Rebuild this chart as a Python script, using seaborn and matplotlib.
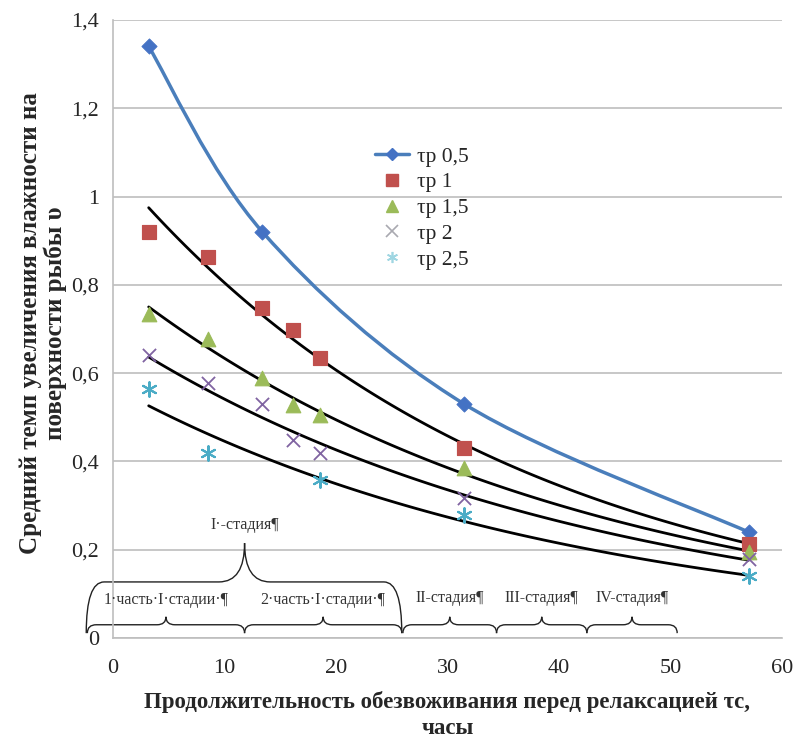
import numpy as np
import matplotlib
matplotlib.use("Agg")
import matplotlib.pyplot as plt
from matplotlib.path import Path
from matplotlib.patches import PathPatch
from matplotlib.lines import Line2D
import seaborn as sns

# data
hours = [3.2, 8.5, 13.4, 16.1, 18.6, 31.5, 57.0]
tau_05_x = [3.2, 13.4, 31.5, 57.0]
tau_05 = [1.34, 0.92, 0.53, 0.24]
tau_1 = [0.92, 0.862, 0.748, 0.697, 0.635, 0.43, 0.213]
tau_15 = [0.735, 0.678, 0.59, 0.527, 0.505, 0.385, 0.195]
tau_2 = [0.64, 0.577, 0.53, 0.448, 0.418, 0.318, 0.18]
tau_25_x = [3.2, 8.5, 18.6, 31.5, 57.0]
tau_25 = [0.565, 0.42, 0.357, 0.278, 0.14]

labels = ["τр 0,5", "τр 1", "τр 1,5", "τр 2", "τр 2,5"]
colors = ["#4A7EBB", "#C0504D", "#9BBB59", "#8064A2", "#4BACC6"]
yticks = [0, 0.2, 0.4, 0.6, 0.8, 1.0, 1.2, 1.4]
xticks = [0, 10, 20, 30, 40, 50, 60]

# stage braces: (start, end, label)
stage_parts = [(-2.3, 11.8, "1·часть·I·стадии·¶"), (11.8, 25.9, "2·часть·I·стадии·¶")]
stages = [(26.0, 34.4, "II-стадия¶"), (34.4, 42.5, "III-стадия¶"), (42.5, 50.6, "IV-стадия¶")]

sns.set_style("white")
plt.rcParams["font.family"] = ["Liberation Serif", "DejaVu Serif"]

fig = plt.figure(figsize=(7.95, 7.4), dpi=100)
ax = fig.add_axes([113 / 795, 1 - 638 / 740, (782 - 113) / 795, (638 - 20) / 740])

ax.set_xlim(0, 60)
ax.set_ylim(0, 1.4)
ax.set_yticks(yticks)
ax.set_xticks(xticks)
ax.yaxis.grid(True, color="#BEBEBE", lw=1.2)
ax.set_axisbelow(True)
for s in ["top", "right"]:
    ax.spines[s].set_visible(False)
for s in ["left", "bottom"]:
    ax.spines[s].set_color("#BEBEBE")
    ax.spines[s].set_linewidth(1.2)
ax.tick_params(axis="both", length=6, width=1.2, color="#BEBEBE", labelsize=16)
ax.tick_params(axis="x", pad=9)
ax.tick_params(axis="y", pad=4)
ax.set_yticklabels([f"{v:g}".replace(".", ",") for v in yticks])
ax.set_xticklabels([str(v) for v in xticks])


# smooth blue line (Excel style bezier through the points)
def smooth_path(xs, ys):
    pts = np.column_stack([xs, ys])
    verts = [pts[0]]
    codes = [Path.MOVETO]
    n = len(pts)
    for i in range(n - 1):
        p0 = pts[max(i - 1, 0)]
        p1 = pts[i]
        p2 = pts[i + 1]
        p3 = pts[min(i + 2, n - 1)]
        verts += [p1 + (p2 - p0) / 6, p2 - (p3 - p1) / 6, p2]
        codes += [Path.CURVE4] * 3
    return Path(verts, codes)


ax.add_patch(PathPatch(smooth_path(tau_05_x, tau_05), fill=False, ec=colors[0], lw=2.5, zorder=3))
sns.scatterplot(x=tau_05_x, y=tau_05, marker="D", s=60, color="#4472C4", edgecolor="#4472C4", ax=ax, zorder=4)

# exponential trend lines for the other series
series = [(hours, tau_1), (hours, tau_15), (hours, tau_2), (tau_25_x, tau_25)]
for xs, ys in series:
    k, b = np.polyfit(xs, np.log(ys), 1)
    xx = np.linspace(min(xs), max(xs), 100)
    sns.lineplot(x=xx, y=np.exp(b + k * xx), color="black", lw=2, ax=ax, zorder=3)

sns.scatterplot(x=hours, y=tau_1, marker="s", s=110, color=colors[1], edgecolor=colors[1], ax=ax, zorder=5)
sns.scatterplot(x=hours, y=tau_15, marker="^", s=110, color=colors[2], edgecolor=colors[2], ax=ax, zorder=5)
ax.scatter(hours, tau_2, marker="x", s=90, color=colors[3], linewidths=1.3, zorder=5)
ax.scatter(tau_25_x, tau_25, marker=(6, 2, 0), s=110, color=colors[4], linewidths=1.5, zorder=5)

ax.set_xlabel("Продолжительность обезвоживания перед релаксацией τс,\nчасы",
              fontsize=16.5, fontweight="bold", linespacing=1.3)
ax.xaxis.set_label_coords(0.5, -(715 - 638) / 618, transform=ax.transAxes)
ax.xaxis.label.set_va("center")
ax.set_ylabel("Средний темп увеличения влажности на\nповерхности рыбы υ",
              fontsize=18, fontweight="bold", linespacing=1.12)
ax.yaxis.set_label_coords(-(113 - 43) / 669, 0.51, transform=ax.transAxes)
ax.yaxis.label.set_va("center")


def overbrace(x0, x1, xt, yb, yl, yt, dxe, dxt, lw=1.0):
    verts = [(x0, yb), (x0, yl), (x0 + dxe, yl), (xt - dxt, yl), (xt, yl), (xt, yt),
             (xt, yl), (xt + dxt, yl), (x1 - dxe, yl), (x1, yl), (x1, yb)]
    codes = [Path.MOVETO, Path.CURVE3, Path.CURVE3, Path.LINETO, Path.CURVE3, Path.CURVE3,
             Path.CURVE3, Path.CURVE3, Path.LINETO, Path.CURVE3, Path.CURVE3]
    ax.add_patch(PathPatch(Path(verts, codes), fill=False, ec="#222222", lw=lw, clip_on=False, zorder=2))


# big brace over the first stage
overbrace(-2.4, 25.9, 11.8, 0.011, 0.127, 0.215, 1.6, 2.3)
ax.text(11.8, 0.256, "I·-стадия¶", ha="center", va="center", fontsize=11.5, color="#333333")

for x0, x1, txt in stage_parts + stages:
    xt = (x0 + x1) / 2
    overbrace(x0, x1, xt, 0.011, 0.03, 0.048, 0.8, 0.8)
    ty = 0.086 if txt.startswith(("1", "2")) else 0.09
    ax.text(xt, ty, txt, ha="center", va="center", fontsize=11.5, color="#333333")

handles = [Line2D([], [], color=colors[0], lw=2.5, marker="D", ms=6, mfc="#4472C4", mec="#4472C4"),
           Line2D([], [], ls="", marker="s", ms=8, color=colors[1]),
           Line2D([], [], ls="", marker="^", ms=8, color=colors[2]),
           Line2D([], [], ls="", marker="x", ms=8, mew=1.2, color="#A9A9B0"),
           Line2D([], [], ls="", marker=(6, 2, 0), ms=8, mew=1.2, color="#9FD6E2")]
ax.legend(handles, labels, loc="upper left", bbox_to_anchor=(364 / 795, 1 - 136 / 740),
          bbox_transform=fig.transFigure, frameon=False, fontsize=15.5, borderpad=0,
          labelspacing=0.26, handlelength=1.6, handletextpad=0.35)

fig.savefig("out.png", dpi=100)
